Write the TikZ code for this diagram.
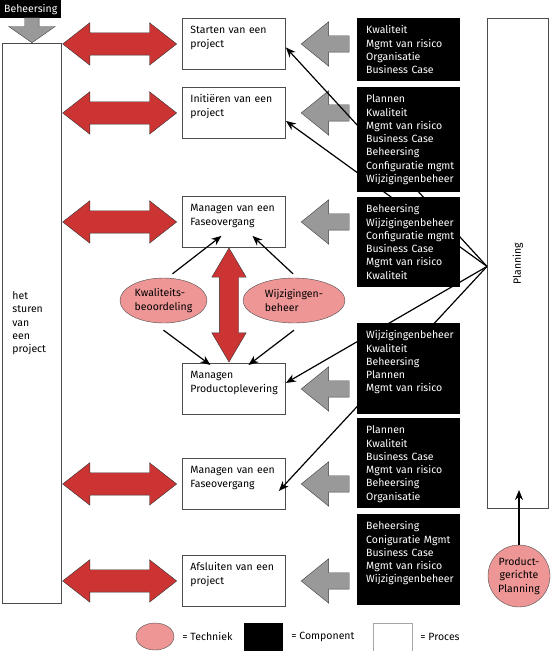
\documentclass[tikz,border=0pt]{standalone}
\usepackage{fontspec}
\setmainfont{Fira Sans}
\usetikzlibrary{shapes.geometric,shapes.arrows,arrows.meta,positioning}
\definecolor{pijlrood}{RGB}{204,51,51}
\definecolor{pijlgrijs}{RGB}{153,153,153}
\definecolor{techniekroze}{RGB}{238,150,150}
\newcommand{\tekstfont}{\fontsize{10.5}{13.3}\selectfont}
\tikzset{proces/.style={rectangle,draw=black!70,line width=0.9pt,fill=white,anchor=north west,text width=87pt,align=left,inner xsep=8pt,inner ysep=0pt,text height=15.5pt,text depth=35.5pt,font=\tekstfont},
         component/.style={rectangle,fill=black,text=white,anchor=north west,text width=85pt,align=left,inner xsep=9pt,inner ysep=0pt,text height=15.5pt,font=\tekstfont},
         techniek/.style={ellipse,draw=black!70,fill=techniekroze,align=left,inner sep=0pt,font=\tekstfont},
         dubbelpijl/.style={double arrow,draw=black!80,fill=pijlrood,minimum height=114pt,inner sep=11pt,double arrow head extend=10pt,double arrow tip angle=76},
         grijspijl/.style={single arrow,draw=black!75,fill=pijlgrijs,shape border rotate=180,minimum height=48pt,inner sep=8pt,single arrow head extend=14pt,single arrow tip angle=78},
         verbinding/.style={-{Stealth[length=10pt,width=8pt]},line width=1.2pt}
}
\begin{document}
\begin{tikzpicture}[x=1pt,y=-1pt]
\useasboundingbox (0,0) rectangle (550,651);

% sturen
\node[fill=black,text=white,anchor=north west,minimum width=61pt,minimum height=18pt,inner sep=0pt,font=\tekstfont] (beh) at (0,0) {Beheersing};
\node[rectangle,draw=black!70,line width=0.9pt,anchor=north west,minimum width=59pt,minimum height=560pt,text width=39pt,align=left,inner xsep=10pt,font=\tekstfont] (sturen) at (2,43) {het\\sturen\\van\\een\\project};
\node[grijspijl,shape border rotate=270,minimum height=25pt,inner sep=7pt,single arrow head extend=16pt,single arrow tip angle=110,anchor=tip] (behpijl) at (sturen.north) {};

% processen
\node[proces] (start) at (182,18) {Starten van een\\project};
\node[proces] (init) at (182,87) {Initiëren van een\\project};
\node[proces] (fase1) at (182,196) {Managen van een\\Faseovergang};
\node[proces] (prod) at (182,363) {Managen\\Productoplevering};
\node[proces] (fase2) at (182,458) {Managen van een\\Faseovergang};
\node[proces] (afsl) at (182,555) {Afsluiten van een\\project};

\foreach \p in {start,init,fase1,fase2,afsl}{
  \node[dubbelpijl,anchor=tip 1] (rood-\p) at ([xshift=-5pt]\p.west) {};
}
\foreach \p in {start,init,fase1,prod,fase2,afsl}{
  \node[grijspijl,anchor=tip] (grijs-\p) at ([xshift=15pt]\p.east) {};
}

% planning
\node[rectangle,draw=black!70,line width=0.9pt,anchor=north west,minimum width=61pt,minimum height=490pt,font=\tekstfont] (plan) at (487,18) {\rotatebox{90}{Planning}};
\coordinate (planbron) at ([yshift=-3pt]plan.west);
\draw[verbinding] (planbron) -- ([yshift=-3.5pt]start.east);
\draw[verbinding] (planbron) -- ([yshift=-8pt]init.east);
\draw[verbinding] (planbron) -- ([yshift=6pt]prod.east);
\draw[verbinding] (planbron) -- ([shift={(-7pt,-7pt)}]fase2.east);

% componenten
\node[component,text depth=47.5pt] (comp1) at (357,18) {Kwaliteit\\Mgmt van risico\\Organisatie\\Business Case};
\node[component,text depth=89.5pt] (comp2) at (357,87) {Plannen\\Kwaliteit\\Mgmt van risico\\Business Case\\Beheersing\\Configuratie~mgmt\\Wijzigingenbeheer};
\node[component,text depth=74.5pt] (comp3) at (357,197) {Beheersing\\Wijzigingenbeheer\\Configuratie~mgmt\\Business Case\\Mgmt van risico\\Kwaliteit};
\node[component,text depth=75.5pt] (comp4) at (357,323) {Wijzigingenbeheer\\Kwaliteit\\Beheersing\\Plannen\\Mgmt van risico};
\node[component,text depth=74.5pt] (comp5) at (357,418) {Plannen\\Kwaliteit\\Business Case\\Mgmt van risico\\Beheersing\\Organisatie};
\node[component,text depth=75.5pt] (comp6) at (357,514) {Beheersing\\Coniguratie~Mgmt\\Business Case\\Mgmt van risico\\Wijzigingenbeheer};

% technieken
\node[techniek,minimum width=87pt,minimum height=45pt] (kwal) at (163.5,300.5) {Kwaliteits-\\beoordeling};
\node[techniek,minimum width=102pt,minimum height=45pt] (wijz) at (294,300.5) {Wijzigingen-\\beheer};
\draw[verbinding] ([shift={(9pt,4pt)}]kwal.north) -- ([shift={(-12.5pt,12pt)}]fase1.south);
\draw[verbinding] ([shift={(-1pt,4pt)}]wijz.north) -- ([shift={(18.5pt,12pt)}]fase1.south);
\draw[verbinding] ([yshift=-7pt]kwal.south) -- ([shift={(-23.5pt,-2pt)}]prod.north);
\draw[verbinding] ([yshift=-7pt]wijz.south) -- ([shift={(14.5pt,-2pt)}]prod.north);
\node[dubbelpijl,shape border rotate=90,inner sep=9.5pt,double arrow head extend=7.5pt,double arrow tip angle=61] (roodv) at (229,305) {};

\node[circle,draw=black!70,fill=techniekroze,minimum size=62pt,inner sep=0pt,align=center,font=\tekstfont] (pgp) at (519,576) {Product-\\gerichte\\Planning};
\coordinate (plantip) at (519,490);
\draw[verbinding] (pgp) -- (plantip);

% legenda
\node[techniek,minimum width=38pt,minimum height=27pt] (leg1) at (155,636.5) {};
\node[right=8pt of leg1,inner sep=0pt,font=\tekstfont] (leg1t) {= Techniek};
\node[fill=black,minimum width=39pt,minimum height=28pt,inner sep=0pt] (leg2) at (263.5,637) {};
\node[right=8pt of leg2,inner sep=0pt,font=\tekstfont] (leg2t) {= Component};
\node[draw=black!35,minimum width=39pt,minimum height=28pt,inner sep=0pt] (leg3) at (392.5,637) {};
\node[right=8pt of leg3,inner sep=0pt,font=\tekstfont] (leg3t) {= Proces};
\end{tikzpicture}
\end{document}
